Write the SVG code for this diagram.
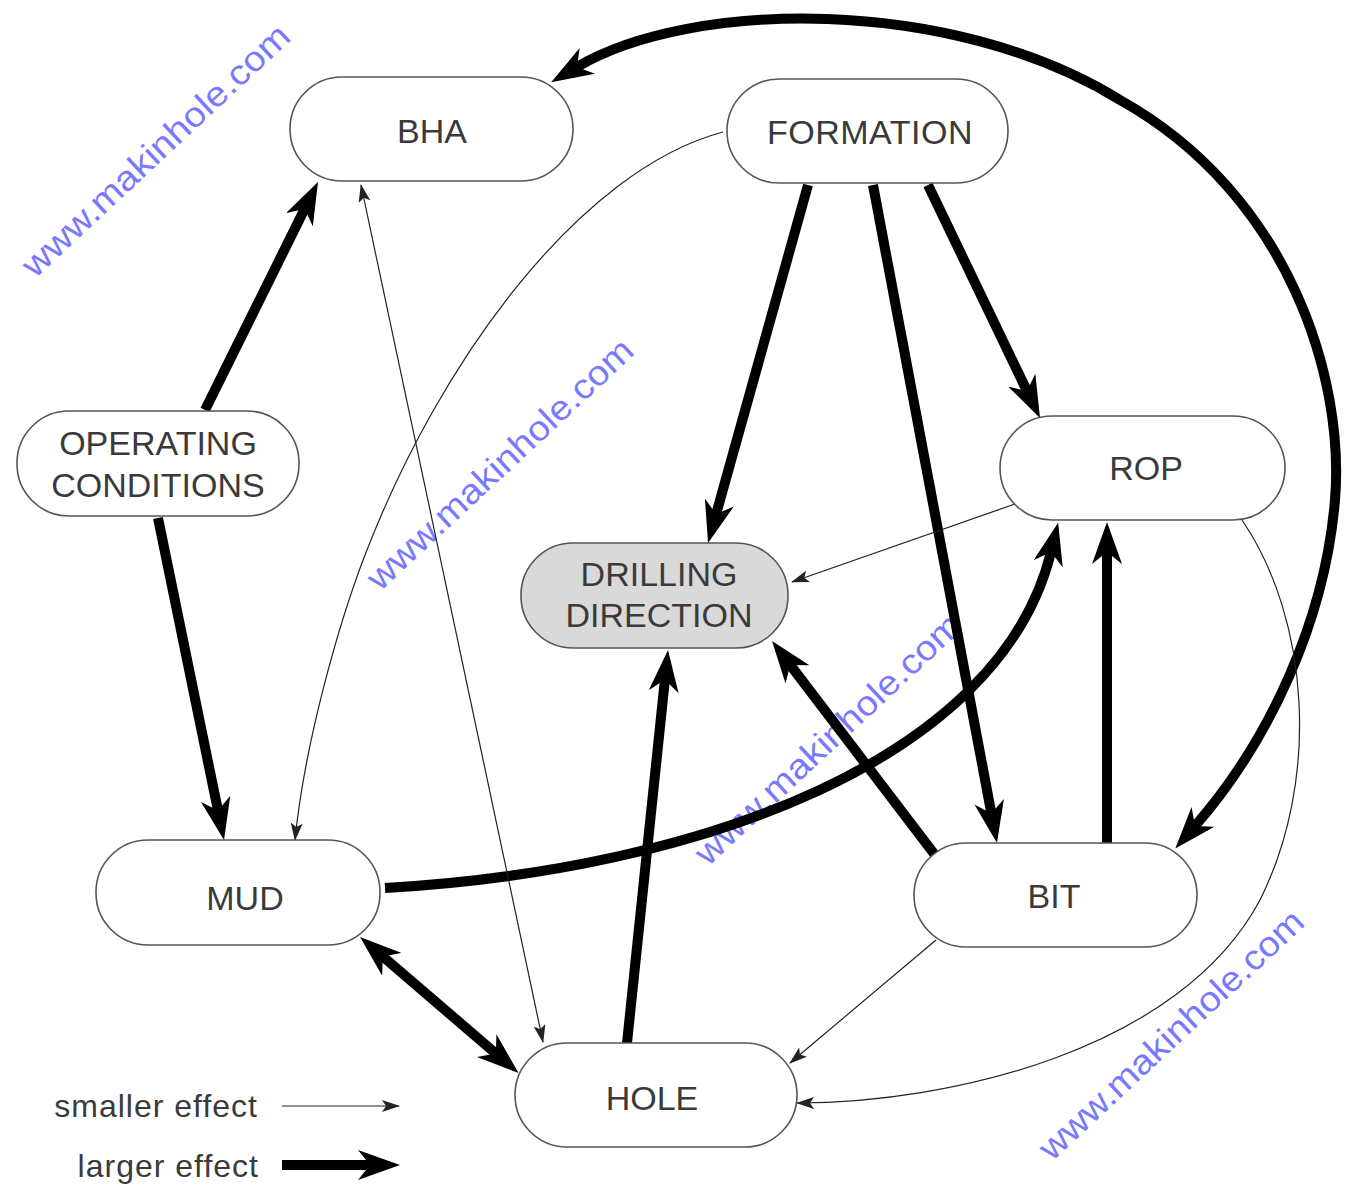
<svg xmlns="http://www.w3.org/2000/svg" width="1351" height="1200" viewBox="0 0 1351 1200">
<style>
.node rect{fill:#fff;stroke:#555;stroke-width:1.6}
.node text{font-family:"Liberation Sans",Arial,sans-serif;font-size:34px;fill:#3a3a3a;text-anchor:middle}
.thick{fill:none;stroke:#000;stroke-width:10}
.thin{fill:none;stroke:#222;stroke-width:1.2}
.wm{font-family:"Liberation Sans",Arial,sans-serif;font-size:35px;fill:#4d4dff;opacity:0.75}
.legend{font-family:"Liberation Sans",Arial,sans-serif;font-size:32px;fill:#3a3a3a;letter-spacing:1px;text-anchor:end}
</style>
<defs>
<marker id="big" markerUnits="userSpaceOnUse" viewBox="0 0 42 30" markerWidth="42" markerHeight="30" refX="12" refY="15" orient="auto-start-reverse">
<path d="M0,0 L42,15 L0,30 L12,15 z" fill="#000"/>
</marker>
<marker id="small" markerUnits="userSpaceOnUse" viewBox="0 0 18 12" markerWidth="18" markerHeight="12" refX="17" refY="6" orient="auto-start-reverse">
<path d="M0,0 L18,6 L0,12 L4,6 z" fill="#222"/>
</marker>
</defs>
<rect width="1351" height="1200" fill="#fff"/>
<g id="watermarks">
<text class="wm" transform="translate(35,279) rotate(-43)" textLength="352" lengthAdjust="spacingAndGlyphs">www.makinhole.com</text>
<text class="wm" transform="translate(380,592) rotate(-43)" textLength="350" lengthAdjust="spacingAndGlyphs">www.makinhole.com</text>
<text class="wm" transform="translate(708,867) rotate(-43)" textLength="350" lengthAdjust="spacingAndGlyphs">www.makinhole.com</text>
<text class="wm" transform="translate(1052,1162) rotate(-43)" textLength="348" lengthAdjust="spacingAndGlyphs">www.makinhole.com</text>
</g>
<g id="connectors">
<path class="thick" d="M205,410 L304.7,208.9" marker-end="url(#big)"/>
<path class="thick" d="M158,518 L218,810.6" marker-end="url(#big)"/>
<path class="thick" d="M808,185 L716.1,514.1" marker-end="url(#big)"/>
<path class="thick" d="M873,185 L991.4,813.5" marker-end="url(#big)"/>
<path class="thick" d="M928,185 L1027,391" marker-end="url(#big)"/>
<path class="thick" d="M577,67 C690,0 950,-5 1120,100 C1290,195 1345,380 1335,500 C1325,620 1270,740 1195,826" marker-start="url(#big)" marker-end="url(#big)"/>
<path class="thick" d="M385,888 C700,870 1000,760 1051,552" marker-end="url(#big)"/>
<path class="thick" d="M1107,843 L1107,552" marker-end="url(#big)"/>
<path class="thick" d="M935,855 L790.2,664.9" marker-end="url(#big)"/>
<path class="thick" d="M627,1043 L664.9,679.8" marker-end="url(#big)"/>
<path class="thick" d="M382.8,956.5 L495.8,1053.5" marker-start="url(#big)" marker-end="url(#big)"/>
<path class="thin" d="M361,185 L543,1042" marker-start="url(#small)" marker-end="url(#small)"/>
<path class="thin" d="M723,132 C580,170 440,360 365,555 C340,620 305,740 295,840" marker-end="url(#small)"/>
<path class="thin" d="M1015,504 L792,582" marker-end="url(#small)"/>
<path class="thin" d="M936,940 L790,1063" marker-end="url(#small)"/>
<path class="thin" d="M1242,520 C1310,620 1320,780 1260,900 C1180,1050 950,1103 797,1103" marker-end="url(#small)"/>
</g>
<g id="node-bha" class="node"><rect x="290" y="77" width="283" height="104" rx="52"/><text x="432" y="143">BHA</text></g>
<g id="node-formation" class="node"><rect x="727" y="79" width="281" height="104" rx="52"/><text x="870" y="144" style="letter-spacing:0.5px">FORMATION</text></g>
<g id="node-operating" class="node"><rect x="17" y="411" width="282" height="105" rx="52"/><text x="158" y="455">OPERATING</text><text x="158" y="497">CONDITIONS</text></g>
<g id="node-rop" class="node"><rect x="1000" y="416" width="285" height="104" rx="52"/><text x="1146" y="480">ROP</text></g>
<g id="node-drilling" class="node"><rect x="521" y="543" width="267" height="105" rx="52" style="fill:#d9d9d9"/><text x="659" y="586">DRILLING</text><text x="659" y="627">DIRECTION</text></g>
<g id="node-mud" class="node"><rect x="96" y="840" width="284" height="105" rx="52"/><text x="245" y="910">MUD</text></g>
<g id="node-bit" class="node"><rect x="914" y="843" width="283" height="104" rx="52"/><text x="1054" y="908">BIT</text></g>
<g id="node-hole" class="node"><rect x="515" y="1043" width="282" height="104" rx="52"/><text x="652" y="1110">HOLE</text></g>
<g id="legend">
<text class="legend" x="258" y="1117">smaller effect</text>
<text class="legend" x="259" y="1177">larger effect</text>
<path class="thin" d="M282,1106 L399,1106" marker-end="url(#small)"/>
<path class="thick" d="M282,1165 L370,1165" marker-end="url(#big)"/>
</g>
</svg>
